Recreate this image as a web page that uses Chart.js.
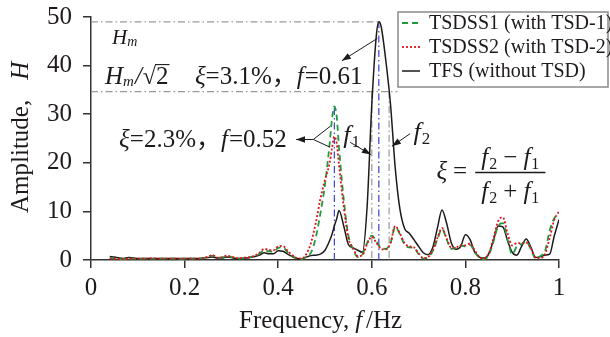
<!DOCTYPE html>
<html>
<head>
<meta charset="utf-8">
<script src="https://cdn.jsdelivr.net/npm/chart.js@4/dist/chart.umd.min.js"></script>
<style>
  html, body { margin: 0; padding: 0; background: #fff; }
  canvas { display: block; }
</style>
</head>
<body>
<canvas id="c" width="610" height="337"></canvas>
<script>
// Frequency axis (Hz) shared by all three spectra
const freq = [
  0.04, 0.05, 0.06, 0.07, 0.08, 0.09, 0.10, 0.11, 0.12, 0.13,
  0.14, 0.15, 0.16, 0.17, 0.18, 0.19, 0.20, 0.21, 0.22, 0.23,
  0.24, 0.25, 0.26, 0.27, 0.28, 0.29, 0.30, 0.31, 0.32, 0.33,
  0.34, 0.35, 0.36, 0.37, 0.38, 0.39, 0.40, 0.41, 0.42, 0.43,
  0.44, 0.45, 0.46, 0.47, 0.48, 0.49, 0.50, 0.51, 0.515, 0.52,
  0.525, 0.53, 0.54, 0.55, 0.56, 0.57, 0.58, 0.59, 0.60, 0.61,
  0.615, 0.62, 0.63, 0.64, 0.65, 0.66, 0.67, 0.68, 0.69, 0.70,
  0.71, 0.72, 0.73, 0.74, 0.75, 0.76, 0.77, 0.78, 0.79, 0.80,
  0.81, 0.82, 0.83, 0.84, 0.85, 0.86, 0.87, 0.88, 0.89, 0.90,
  0.91, 0.92, 0.93, 0.94, 0.95, 0.96, 0.97, 0.98, 0.99, 1.00
];

// Amplitude H, structure with TSD-1
const tsdss1 = [
  0.4, 0.3, 0.2, 0.2, 0.3, 0.3, 0.2, 0.3, 0.3, 0.3,
  0.2, 0.3, 0.3, 0.3, 0.3, 0.2, 0.3, 0.3, 0.3, 0.3,
  0.4, 0.6, 0.9, 0.5, 0.5, 0.8, 0.6, 0.4, 0.3, 0.4,
  0.6, 0.8, 1.3, 2.0, 1.8, 1.7, 2.5, 2.6, 1.6, 0.8,
  0.3, 0.2, 0.7, 1.5, 4.5, 9.5, 15.5, 24.0, 29.0, 31.6,
  29.5, 23.0, 12.5, 5.0, 2.2, 0.6, 1.2, 3.5, 5.0, 3.8,
  3.0, 2.4, 2.3, 3.5, 6.8, 5.3, 3.2, 2.6, 2.5, 1.2,
  0.3, 0.6, 1.8, 4.2, 6.4, 4.2, 2.3, 2.5, 3.0, 2.8,
  3.1, 1.6, 0.5, 0.2, 1.0, 3.8, 7.0, 7.6, 4.2, 1.2,
  2.8, 3.3, 3.8, 2.2, 0.3, 0.8, 1.8, 6.0, 8.6, 9.5
];

// Amplitude H, structure with TSD-2
const tsdss2 = [
  0.3, 0.3, 0.2, 0.2, 0.3, 0.3, 0.3, 0.3, 0.3, 0.4,
  0.3, 0.3, 0.3, 0.3, 0.3, 0.3, 0.3, 0.3, 0.3, 0.3,
  0.4, 0.7, 1.0, 0.5, 0.6, 0.9, 0.7, 0.4, 0.4, 0.5,
  0.6, 0.9, 1.5, 2.3, 2.1, 2.0, 2.8, 2.9, 1.9, 1.0,
  0.4, 0.3, 1.2, 3.5, 7.5, 12.5, 16.5, 20.0, 23.0, 25.4,
  24.0, 19.5, 11.0, 4.5, 2.5, 0.8, 1.0, 3.3, 4.8, 3.5,
  2.8, 2.2, 2.2, 3.5, 7.0, 5.5, 3.5, 2.8, 2.6, 1.4,
  0.4, 0.6, 1.9, 4.5, 6.6, 4.4, 2.5, 2.6, 3.0, 3.0,
  3.4, 2.0, 0.6, 0.3, 1.3, 4.5, 8.0, 8.8, 5.5, 3.0,
  3.5, 3.4, 3.6, 2.4, 0.5, 0.4, 1.2, 4.5, 8.3, 10.0
];

// Amplitude H, structure without TSD
const tfs = [
  0.7, 0.6, 0.4, 0.3, 0.5, 0.4, 0.3, 0.3, 0.3, 0.3,
  0.3, 0.3, 0.3, 0.3, 0.3, 0.3, 0.3, 0.3, 0.3, 0.3,
  0.4, 0.5, 0.6, 0.4, 0.4, 0.6, 0.5, 0.3, 0.3, 0.4,
  0.5, 0.7, 1.0, 1.5, 1.3, 1.3, 1.9, 1.8, 1.2, 0.7,
  0.3, 0.2, 0.6, 0.9, 1.0, 1.2, 2.0, 4.0, 5.3, 7.0,
  8.5, 10.2, 7.0, 3.2, 2.5, 2.0, 1.6, 11.0, 32.0, 46.5,
  49.0, 48.0, 41.0, 32.0, 19.0, 10.5, 6.5, 5.5, 4.2, 2.8,
  1.5, 1.1, 2.5, 6.5, 10.3, 7.5, 3.5, 2.2, 2.8, 5.2,
  4.2, 1.6, 0.6, 0.4, 1.3, 4.0, 7.0, 6.8, 4.0, 1.6,
  1.0, 2.8, 4.3, 2.6, 0.5, 0.7, 1.0, 1.2, 5.0, 8.3
];

const seriesNames = ['TSDSS1 (with TSD-1)', 'TSDSS2 (with TSD-2)', 'TFS (without TSD)'];
const xTicks = [0, 0.2, 0.4, 0.6, 0.8, 1];
const yTicks = [0, 10, 20, 30, 40, 50];

// Peak and half-power frequencies used by the reference lines
const fPeakTsd = 0.52;
const fPeakTfs = 0.615;
const fHalf1 = 0.600;
const fHalf2 = 0.637;

const SERIF = "'Liberation Serif', 'Times New Roman', 'Noto Sans CJK SC', serif";
const INK = '#1e1a1a';
const GREEN = '#1f9a3c';
const RED = '#e0141c';
const BLUE = '#3a44c6';
const GREY = '#9a9a9a';

function fnt(size, italic) {
  return (italic ? 'italic ' : '') + size + 'px ' + SERIF;
}

// Draw a row of text pieces: [text, size, italic, dy, extraGap]
function runs(ctx, x, y, parts) {
  for (const p of parts) {
    ctx.font = fnt(p[1], p[2]);
    ctx.fillText(p[0], x, y + (p[3] || 0));
    x += ctx.measureText(p[0]).width + (p[4] || 0);
  }
  return x;
}
function runsWidth(ctx, parts) {
  let w = 0;
  for (const p of parts) { ctx.font = fnt(p[1], p[2]); w += ctx.measureText(p[0]).width + (p[4] || 0); }
  return w;
}
function seg(ctx, x0, y0, x1, y1) {
  ctx.beginPath(); ctx.moveTo(x0, y0); ctx.lineTo(x1, y1); ctx.stroke();
}
function arrow(ctx, x0, y0, x1, y1) {
  seg(ctx, x0, y0, x1, y1);
  const a = Math.atan2(y1 - y0, x1 - x0), L = 9, W = 3.2;
  ctx.beginPath();
  ctx.moveTo(x1, y1);
  ctx.lineTo(x1 - L * Math.cos(a) + W * Math.sin(a), y1 - L * Math.sin(a) - W * Math.cos(a));
  ctx.lineTo(x1 - L * Math.cos(a) - W * Math.sin(a), y1 - L * Math.sin(a) + W * Math.cos(a));
  ctx.closePath(); ctx.fill();
}

// Reference lines (half-power band, peaks) under the curves
const refLines = {
  id: 'refLines',
  beforeDatasetsDraw(chart) {
    const ctx = chart.ctx, xs = chart.scales.x, ys = chart.scales.y;
    const X = v => xs.getPixelForValue(v), Y = v => ys.getPixelForValue(v);
    const hm = Math.max(...tfs), hh = hm / Math.SQRT2;
    const pk = Math.max(...tsdss1);
    ctx.save();
    ctx.lineWidth = 1.2;
    ctx.setLineDash([7, 3, 1.5, 3]);
    ctx.strokeStyle = GREY;
    seg(ctx, X(0), Y(hm), X(fPeakTfs), Y(hm));
    seg(ctx, X(0), Y(hh), X(0.655), Y(hh));
    seg(ctx, X(fHalf1), Y(hh), X(fHalf1), Y(0));
    seg(ctx, X(fHalf2), Y(hh), X(fHalf2), Y(0));
    ctx.strokeStyle = BLUE;
    seg(ctx, X(fPeakTsd), Y(0), X(fPeakTsd), Y(pk));
    seg(ctx, X(fPeakTfs), Y(0), X(fPeakTfs), Y(hm));
    ctx.restore();
  }
};

// Labels, arrows, formula, axis titles and legend
const notes = {
  id: 'notes',
  afterDraw(chart) {
    const ctx = chart.ctx, xs = chart.scales.x, ys = chart.scales.y;
    const X = v => xs.getPixelForValue(v), Y = v => ys.getPixelForValue(v);
    ctx.save();
    ctx.fillStyle = INK; ctx.strokeStyle = INK;
    ctx.textBaseline = 'alphabetic'; ctx.textAlign = 'left';

    // H_m and H_m/sqrt(2)
    runs(ctx, X(0.045), Y(44.5), [['H', 21, true], ['m', 14, true, 2]]);
    let x = runs(ctx, X(0.030), Y(36.3), [['H', 25, true], ['m', 15, true, 2, 1], ['/', 25, true, 0, 1], ['\u221A', 24, false]]);
    ctx.font = fnt(25, false);
    const w2 = ctx.measureText('2').width;
    ctx.fillText('2', x, Y(36.3));
    ctx.lineWidth = 1.1;
    seg(ctx, x - 1, Y(36.3) - 19, x + w2 + 1, Y(36.3) - 19);

    // damping / frequency labels
    runs(ctx, X(0.222), Y(36.3), [['\u03BE', 25, true], ['=3.1%\uFF0C', 25, false], ['f', 25, true, 0, 1], ['=0.61', 25, false]]);
    runs(ctx, X(0.060), Y(23.2), [['\u03BE', 25, true], ['=2.3%\uFF0C', 25, false], ['f', 25, true, 0, 1], ['=0.52', 25, false]]);

    ctx.lineWidth = 1;
    arrow(ctx, X(0.612), Y(45.6), X(0.536), Y(41.0));
    arrow(ctx, X(0.475), Y(24.8), X(0.438), Y(24.8));
    seg(ctx, X(0.475), Y(24.8), X(0.511), Y(27.5));
    seg(ctx, X(0.475), Y(24.8), X(0.511), Y(23.2));

    // f1, f2 markers
    runs(ctx, X(0.539), Y(24.0), [['f', 26, true, 0, 1], ['1', 17, false, 4]]);
    runs(ctx, X(0.689), Y(24.6), [['f', 26, true, 0, 1], ['2', 17, false, 4]]);
    arrow(ctx, X(0.554), Y(24.2), X(0.598), Y(21.7));
    arrow(ctx, X(0.682), Y(26.0), X(0.643), Y(23.4));

    // xi = (f2 - f1) / (f2 + f1)
    const by = Y(16.7);
    runs(ctx, X(0.738), by, [['\u03BE', 25, true, 0, 6], ['=', 25, false]]);
    const bx0 = X(0.821), bx1 = X(0.971), barY = Y(18.0);
    ctx.lineWidth = 1.3;
    seg(ctx, bx0, barY, bx1, barY);
    const num = [['f', 25, true, 0, 1], ['2', 16, false, 4, 6], ['\u2212', 25, false, 0, 6], ['f', 25, true, 0, 1], ['1', 16, false, 4]];
    const den = [['f', 25, true, 0, 1], ['2', 16, false, 4, 6], ['+', 25, false, 0, 6], ['f', 25, true, 0, 1], ['1', 16, false, 4]];
    const cx = (bx0 + bx1) / 2;
    runs(ctx, cx - runsWidth(ctx, num) / 2, Y(19.6), num);
    runs(ctx, cx - runsWidth(ctx, den) / 2, Y(12.6), den);

    // axis titles
    runs(ctx, 239, 328, [['Frequency,', 25, false, 0, 6], ['f', 25, true, 0, 4], ['/Hz', 25, false]]);
    ctx.save();
    ctx.translate(28, 213);
    ctx.rotate(-Math.PI / 2);
    runs(ctx, 0, 0, [['Amplitude,', 25, false, 0, 20], ['H', 25, true]]);
    ctx.restore();

    // legend
    const lx = 398, ly = 12, lw = 210, lh = 75;
    ctx.fillStyle = '#fff';
    ctx.fillRect(lx, ly, lw, lh);
    ctx.strokeStyle = '#8a8a8a'; ctx.lineWidth = 1.5;
    ctx.strokeRect(lx, ly, lw, lh);
    const styles = [[GREEN, [6, 4], 1.8], [RED, [2, 2], 1.8], [INK, [], 1.5]];
    ctx.font = fnt(20, false); ctx.textBaseline = 'middle';
    for (let i = 0; i < 3; i++) {
      const yy = ly + 11 + i * 24;
      ctx.strokeStyle = styles[i][0]; ctx.lineWidth = styles[i][2];
      ctx.setLineDash(styles[i][1]);
      seg(ctx, lx + 4, yy, lx + 22, yy);
      ctx.setLineDash([]);
      ctx.fillStyle = INK;
      ctx.fillText(seriesNames[i], lx + 31, yy + 1);
    }
    ctx.restore();
  }
};

const pts = arr => freq.map((f, i) => ({ x: f, y: arr[i] }));

new Chart(document.getElementById('c'), {
  type: 'line',
  data: {
    datasets: [
      { label: seriesNames[0], data: pts(tsdss1), borderColor: GREEN, borderWidth: 1.8, borderDash: [6, 4], order: 1 },
      { label: seriesNames[1], data: pts(tsdss2), borderColor: RED, borderWidth: 1.8, borderDash: [2, 2], order: 0 },
      { label: seriesNames[2], data: pts(tfs), borderColor: INK, borderWidth: 1.5, order: 2 }
    ]
  },
  options: {
    responsive: false,
    animation: false,
    events: [],
    devicePixelRatio: 1,
    layout: { padding: { top: 17, right: 51, left: 0, bottom: 0 } },
    elements: {
      point: { radius: 0 },
      line: { cubicInterpolationMode: 'monotone', fill: false }
    },
    plugins: { legend: { display: false }, tooltip: { enabled: false } },
    scales: {
      x: {
        type: 'linear', min: 0, max: 1,
        border: { display: true, color: '#333', width: 1.5 },
        grid: { drawOnChartArea: false, drawTicks: true, tickLength: 8, color: '#333', lineWidth: 1.5 },
        ticks: { font: { family: SERIF, size: 25 }, color: INK, padding: 5, maxRotation: 0, autoSkip: false,
                 callback: v => String(+v.toFixed(1)) },
        afterBuildTicks: s => { s.ticks = xTicks.map(v => ({ value: v })); },
        afterFit: s => { s.height = 77; s.paddingLeft = 0; s.paddingRight = 0; }
      },
      y: {
        type: 'linear', min: 0, max: 50,
        border: { display: true, color: '#333', width: 1.5 },
        grid: { drawOnChartArea: false, drawTicks: true, tickLength: 8, color: '#333', lineWidth: 1.5 },
        ticks: { font: { family: SERIF, size: 25 }, color: INK, padding: 11 },
        afterBuildTicks: s => { s.ticks = yTicks.map(v => ({ value: v })); },
        afterFit: s => { s.width = 91; s.paddingTop = 0; s.paddingBottom = 0; }
      }
    }
  },
  plugins: [refLines, notes]
});
</script>
</body>
</html>
